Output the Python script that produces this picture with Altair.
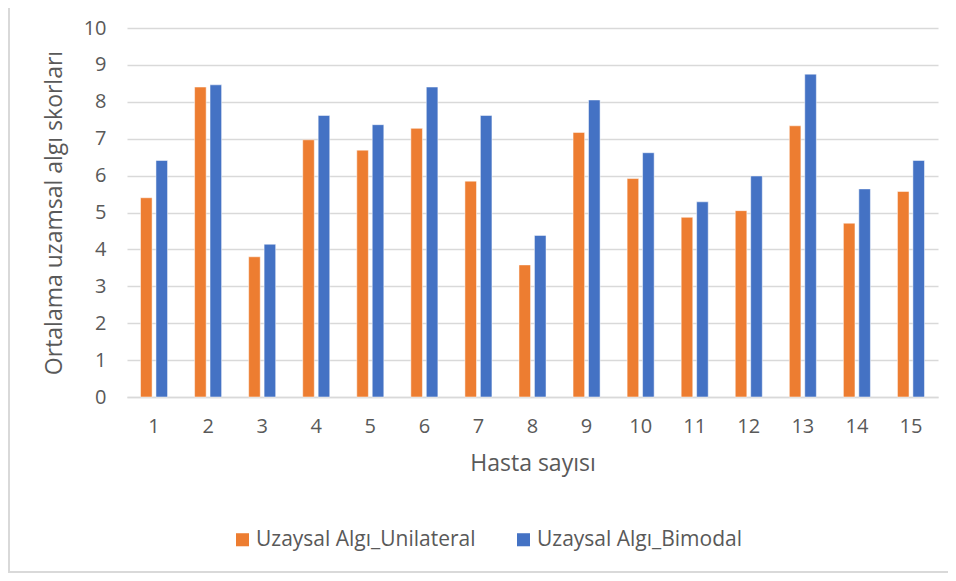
import altair as alt
import pandas as pd

patients = [str(i) for i in range(1, 16)]
unilateral = [5.40, 8.40, 3.80, 6.97, 6.69, 7.28, 5.85, 3.58, 7.17, 5.92, 4.87, 5.05, 7.35, 4.71, 5.57]
bimodal = [6.41, 8.46, 4.14, 7.63, 7.38, 8.40, 7.63, 4.38, 8.05, 6.62, 5.29, 5.99, 8.75, 5.64, 6.41]
series = ["Uzaysal Algı_Unilateral", "Uzaysal Algı_Bimodal"]
colors = ["#ED7D31", "#4472C4"]
y_ticks = list(range(0, 11))

rows = []
for p, u, b in zip(patients, unilateral, bimodal):
    rows.append({"Hasta": p, "Seri": series[0], "Skor": u})
    rows.append({"Hasta": p, "Seri": series[1], "Skor": b})
df = pd.DataFrame(rows)

FONT = "Open Sans"
TXT = "#595959"
GRID = "#d9d9d9"
W, H = 811, 369

bars = alt.Chart(df).mark_bar(stroke="white", strokeWidth=0.5).encode(
    x=alt.X(
        "Hasta:N",
        sort=patients,
        scale=alt.Scale(paddingInner=0.5, paddingOuter=0.25),
        axis=alt.Axis(
            title="Hasta sayısı",
            labelAngle=0,
            ticks=False,
            grid=False,
            domainColor=GRID,
            domainWidth=1.5,
            labelPadding=19,
            titlePadding=16,
            labelFontSize=20,
            titleFontSize=23,
        ),
    ),
    xOffset=alt.XOffset("Seri:N", sort=series, scale=alt.Scale(paddingInner=0.25, paddingOuter=0)),
    y=alt.Y(
        "Skor:Q",
        scale=alt.Scale(domain=[0, 10]),
        axis=alt.Axis(
            title="Ortalama uzamsal algı skorları",
            values=y_ticks,
            domain=False,
            ticks=False,
            gridColor=GRID,
            gridWidth=1.5,
            labelPadding=21,
            titlePadding=17,
            labelFontSize=20,
            titleFontSize=23,
        ),
    ),
    color=alt.Color(
        "Seri:N",
        sort=series,
        scale=alt.Scale(domain=series, range=colors),
        legend=alt.Legend(
            title=None,
            orient="none",
            legendX=105,
            legendY=501,
            direction="horizontal",
            symbolType="square",
            symbolSize=170,
            symbolStrokeWidth=0,
            labelFontSize=21,
            labelOffset=3,
            labelLimit=0,
            columnPadding=37,
        ),
    ),
)

frame_df = pd.DataFrame({"k": [0]})
frame = alt.Chart(frame_df).mark_rule(color=GRID, strokeWidth=2).encode(
    x=alt.value(-118), x2=alt.value(-118), y=alt.value(-20), y2=alt.value(H + 176)
)
frame_b = alt.Chart(frame_df).mark_rule(color=GRID, strokeWidth=2).encode(
    x=alt.value(-118), x2=alt.value(W + 12), y=alt.value(H + 175), y2=alt.value(H + 175)
)

chart = alt.layer(bars, frame, frame_b).properties(
    width=W,
    height=H,
    autosize=alt.AutoSizeParams(type="none"),
    padding={"left": 119, "top": 20, "right": 10, "bottom": 176},
    background="white",
).configure_view(stroke=None).configure_axis(
    labelFont=FONT, titleFont=FONT, labelColor=TXT, titleColor=TXT, titleFontWeight="normal"
).configure_legend(labelFont=FONT, labelColor=TXT)

chart.save("out.html", embed_options={"renderer": "svg", "actions": False})
